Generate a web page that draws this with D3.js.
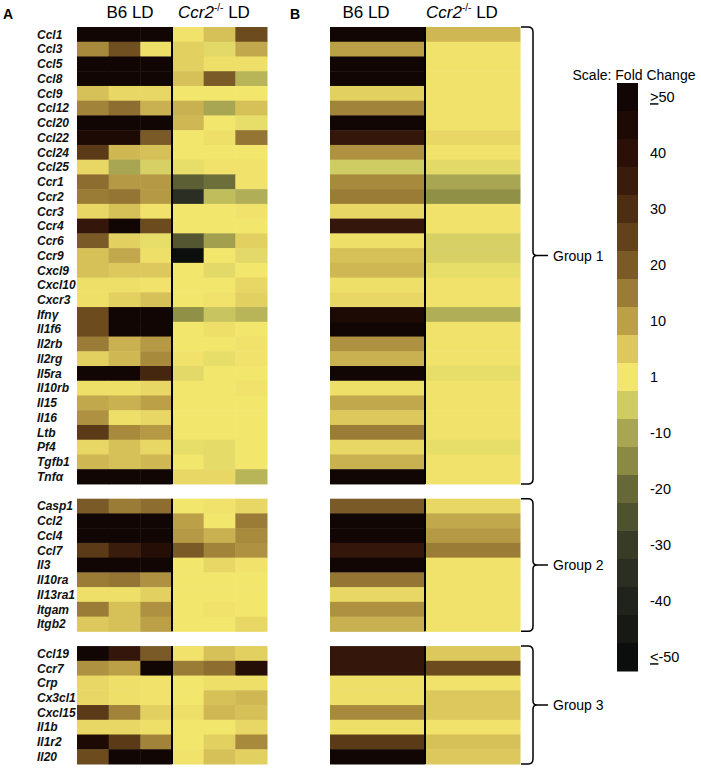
<!DOCTYPE html>
<html>
<head>
<meta charset="utf-8">
<script src="https://cdn.jsdelivr.net/npm/d3@7"></script>
<style>
  html, body { margin: 0; padding: 0; background: #fff; }
  svg { display: block; font-family: "Liberation Sans", Arial, sans-serif; }
</style>
</head>
<body>
<svg id="chart" width="701" height="769"></svg>
<script>
// ---------------- DATA ----------------
const group1Genes = ["Ccl1","Ccl3","Ccl5","Ccl8","Ccl9","Ccl12","Ccl20","Ccl22","Ccl24","Ccl25","Ccr1","Ccr2","Ccr3","Ccr4","Ccr6","Ccr9","Cxcl9","Cxcl10","Cxcr3","Ifnγ","Il1f6","Il2rb","Il2rg","Il5ra","Il10rb","Il15","Il16","Ltb","Pf4","Tgfb1","Tnfα"];
const group2Genes = ["Casp1","Ccl2","Ccl4","Ccl7","Il3","Il10ra","Il13ra1","Itgam","Itgb2"];
const group3Genes = ["Ccl19","Ccr7","Crp","Cx3cl1","Cxcl15","Il1b","Il1r2","Il20"];
const groupNames = ["Group 1","Group 2","Group 3"];

const replicateColumns = ["B6 r1","B6 r2","B6 r3","KO r1","KO r2","KO r3"];
const meanColumns = ["B6 LD","Ccr2 LD"];

// Panel A: fold change for three B6 LD replicates, per gene (group 1, 2, 3 order)
const b6Replicates = [
  [50,50,50],[13,22,2],[50,50,50],[50,50,50],[6,3,3],[14,17,8],[50,50,50],[45,45,20],[27,7,6],[3,-10,-4],
  [17,11,11],[15,16,11],[3,6,1.5],[37,50,23],[20,4,-1],[6,9,2],[6,5,5],[2,2,1.5],[2,4,6],[23,50,50],
  [23,50,50],[15,8,11],[4,7,13],[50,50,32],[2,2,3],[9,8,10],[12,2,3],[27,13,11],[3,6,3],[7,6,7],[50,50,50],
  [20,15,17],[50,50,50],[50,50,50],[27,35,42],[50,50,50],[15,16,12],[2,2,4],[15,6,12],[5,6,10],
  [50,37,20],[12,10,50],[3,2,1.5],[3,2,1.5],[27,14,4],[3,3,2],[45,27,14],[23,50,50]
];
// Panel A: fold change for three Ccr2-/- LD replicates
const koReplicates = [
  [1.5,6,23],[4,-2,9],[4,2,2],[6,20,-8],[1,1,1],[8,-10,6],[7,1,-1],[1,2,16],[1,1,1],[-1,1.5,1.5],
  [-22,-19,1.5],[-35,-7,-9],[1,1,1.5],[1,1,1],[-24,-11,4],[-50,1,-2],[1,-2,1],[1,1,3],[1,1.5,4],[-14,-6,-8],
  [1,2,1],[1,1,1.5],[1.5,-1,1.5],[-2,1,1],[1,1,1.5],[1,1,1],[1,1,1],[1,1,1],[-1,-1.5,1],[1,-1.5,1],[3,3,-8],
  [1,1.5,3],[10,1,15],[11,8,13],[20,14,12],[1,3,1.5],[1,1,1],[1,1,1],[1,1.5,1],[1,1,3],
  [1.5,6,4],[15,17,42],[1,2,2],[1,6,7],[2,7,6],[1,1,3],[1,4,13],[1.5,6,4]
];
// Panel B: mean fold change
const b6Mean = [50,10,50,50,4,14,50,37,12,-5,13,15,3,37,2,6,7,2,3,45,50,12,8,50,2,9,5,15,3,8,50,
                20,50,50,37,50,16,3,12,8,
                37,37,2,2,13,2,27,50];
const koMean = [7,1.5,1.5,1.5,1.5,1.5,1.5,3,1.5,-2,-10,-14,1.5,1.5,-4,-4,-1,1.5,1.5,-9,1.5,1.5,1.5,-1,1.5,1.5,1.5,1.5,-1,1.5,1.5,
                3,9,11,15,1.5,1.5,1.5,1.5,1.5,
                5,23,1.5,5,5,1.5,6,5];

// Legend
const legendSteps = [50,45,40,35,30,25,20,15,10,5,1,-5,-10,-15,-20,-25,-30,-35,-40,-45,-50];
const legendTickValues = [50,40,30,20,10,1,-10,-20,-30,-40,-50];
const legendTickLabels = ["≥50","40","30","20","10","1","-10","-20","-30","-40","≤-50"];

// colour stops of the fold-change scale
const colorDomain = [-50,-45,-40,-35,-30,-25,-20,-15,-10,-5,1,5,10,15,20,25,30,35,40,45,50];
const colorRange = ["#0b0e0c","#161914","#20231b","#2b2e22","#383c26","#4e522e","#666838","#8a8a44","#a8a652","#d0cc64",
                    "#f3e66c","#dcc85c","#bca048","#9a7c36","#7a5a26","#62421a","#4d2e12","#3a1c0c","#2a1006","#1e0a04","#120604"];

// ---------------- CHART ----------------
const svg = d3.select("#chart");
const color = d3.scaleLinear().domain(colorDomain).range(colorRange).clamp(true);

const allGenes = [...group1Genes, ...group2Genes, ...group3Genes];
const rowKeys = [...group1Genes, "gap1", ...group2Genes, "gap2", ...group3Genes];
const y = d3.scaleBand().domain(rowKeys).range([27, 764]).padding(0);

const xA = d3.scaleBand().domain(replicateColumns).range([77, 267]);
const xB = d3.scaleBand().domain(meanColumns).range([330, 520]);

// Panel A cells
const cellsA = [];
allGenes.forEach((g, i) => {
  b6Replicates[i].forEach((v, j) => cellsA.push({gene: g, col: replicateColumns[j], v}));
  koReplicates[i].forEach((v, j) => cellsA.push({gene: g, col: replicateColumns[j + 3], v}));
});
svg.append("g").selectAll("rect").data(cellsA).join("rect")
  .attr("x", d => xA(d.col))
  .attr("y", d => y(d.gene))
  .attr("width", xA.bandwidth() + 0.5)
  .attr("height", y.bandwidth() + 0.5)
  .attr("fill", d => color(d.v));

// Panel B cells
const cellsB = [];
allGenes.forEach((g, i) => {
  cellsB.push({gene: g, col: meanColumns[0], v: b6Mean[i]});
  cellsB.push({gene: g, col: meanColumns[1], v: koMean[i]});
});
svg.append("g").selectAll("rect").data(cellsB).join("rect")
  .attr("x", d => xB(d.col))
  .attr("y", d => y(d.gene))
  .attr("width", xB.bandwidth() + 0.5)
  .attr("height", y.bandwidth() + 0.5)
  .attr("fill", d => color(d.v));

// group extents
const groups = [group1Genes, group2Genes, group3Genes].map((gs, k) => ({
  name: groupNames[k],
  y0: y(gs[0]),
  y1: y(gs[gs.length - 1]) + y.bandwidth()
}));

// divider lines
groups.forEach(gr => {
  svg.append("line").attr("x1", xA(replicateColumns[3])).attr("x2", xA(replicateColumns[3]))
    .attr("y1", gr.y0).attr("y2", gr.y1).attr("stroke", "#000").attr("stroke-width", 2);
  svg.append("line").attr("x1", xB(meanColumns[1])).attr("x2", xB(meanColumns[1]))
    .attr("y1", gr.y0).attr("y2", gr.y1).attr("stroke", "#000").attr("stroke-width", 2);
});

// gene labels
svg.append("g").selectAll("text").data(allGenes).join("text")
  .attr("x", 37)
  .attr("y", d => y(d) + y.bandwidth() / 2)
  .attr("dy", "0.36em")
  .attr("font-size", 12)
  .attr("font-weight", "bold")
  .attr("font-style", "italic")
  .attr("fill", "#111")
  .text(d => d);

// panel letters
svg.append("text").attr("x", 3).attr("y", 19).attr("font-size", 14).attr("font-weight", "bold").text("A");
svg.append("text").attr("x", 290).attr("y", 19).attr("font-size", 14).attr("font-weight", "bold").text("B");

// headers
function header(xb6, xko) {
  svg.append("text").attr("x", xb6).attr("y", 18).attr("font-size", 17).attr("text-anchor", "middle").text("B6 LD");
  const t = svg.append("text").attr("x", xko).attr("y", 18).attr("font-size", 17).attr("text-anchor", "middle");
  t.append("tspan").attr("font-style", "italic").text("Ccr2");
  t.append("tspan").attr("font-size", 10).attr("dy", -7).text("-/-");
  t.append("tspan").attr("dy", 7).text(" LD");
}
header(130, 214);
header(366, 462);

// brackets
const bx0 = 521, bxv = 533, btip = 548;
groups.forEach(gr => {
  const ym = (gr.y0 + gr.y1) / 2;
  const p = d3.path();
  p.moveTo(bx0, gr.y0);
  p.lineTo(bxv - 5, gr.y0);
  p.quadraticCurveTo(bxv, gr.y0, bxv, gr.y0 + 5);
  p.lineTo(bxv, ym - 4);
  p.quadraticCurveTo(bxv, ym, bxv + 4, ym);
  p.lineTo(btip, ym);
  p.moveTo(bxv + 4, ym);
  p.quadraticCurveTo(bxv, ym, bxv, ym + 4);
  p.lineTo(bxv, gr.y1 - 5);
  p.quadraticCurveTo(bxv, gr.y1, bxv - 5, gr.y1);
  p.lineTo(bx0, gr.y1);
  svg.append("path").attr("d", p.toString()).attr("fill", "none").attr("stroke", "#000").attr("stroke-width", 1.5);
  svg.append("text").attr("x", 553).attr("y", ym).attr("dy", "0.36em").attr("font-size", 14).text(gr.name);
});

// legend
const ly = d3.scaleBand().domain(legendSteps).range([83, 671]);
svg.append("text").attr("x", 634).attr("y", 80).attr("font-size", 14).attr("text-anchor", "middle").text("Scale: Fold Change");
svg.append("g").selectAll("rect").data(legendSteps).join("rect")
  .attr("x", 617).attr("width", 21)
  .attr("y", d => ly(d)).attr("height", ly.bandwidth() + 0.5)
  .attr("fill", d => color(d));
const lt = svg.append("g").selectAll("text").data(legendTickValues).join("text")
  .attr("x", 650)
  .attr("y", d => ly(d) + ly.bandwidth() / 2)
  .attr("dy", "0.36em")
  .attr("font-size", 14.5);
lt.each(function(d, i) {
  const lab = legendTickLabels[i];
  const t = d3.select(this);
  if (lab[0] === "≥" || lab[0] === "≤") {
    t.append("tspan").attr("text-decoration", "underline").text(lab[0] === "≥" ? ">" : "<");
    t.append("tspan").text(lab.slice(1));
  } else {
    t.text(lab);
  }
});
</script>
</body>
</html>
